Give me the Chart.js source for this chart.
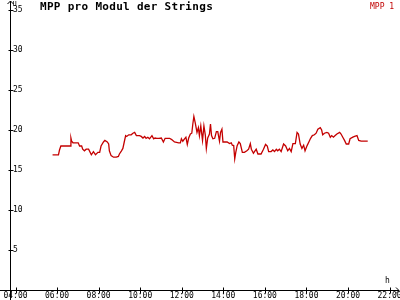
<!DOCTYPE html>
<html>
<head>
<meta charset="utf-8">
<script src="https://cdn.jsdelivr.net/npm/chart.js@4/dist/chart.umd.min.js"></script>
<style>
html, body { margin: 0; padding: 0; background: #fff; }
#wrap { position: relative; width: 400px; height: 300px; }
</style>
</head>
<body>
<div id="wrap"><canvas id="container"></canvas></div>
<script>
// Series data (time of day, value)
var times = ['05:47','06:04','06:07','06:11','06:38','06:40','06:42','06:46','07:01','07:05',
  '07:11','07:14','07:19','07:24','07:31','07:39','07:45','07:51','07:58','08:03',
  '08:07','08:14','08:18','08:25','08:29','08:31','08:36','08:43','08:51','08:57',
  '09:00','09:06','09:10','09:14','09:18','09:21','09:27','09:34','09:39','09:44',
  '09:49','09:53','09:58','10:03','10:08','10:13','10:17','10:22','10:27','10:34',
  '10:39','10:43','10:48','10:54','11:01','11:07','11:12','11:25','11:31','11:39',
  '11:51','11:56','11:59','12:03','12:08','12:12','12:16','12:20','12:25','12:29',
  '12:32','12:35','12:39','12:44','12:48','12:51','12:55','13:00','13:04','13:08',
  '13:11','13:15','13:20','13:23','13:26','13:30','13:35','13:40','13:44','13:49',
  '13:52','13:56','13:59','14:06','14:11','14:18','14:23','14:26','14:30','14:33',
  '14:36','14:40','14:45','14:49','14:55','15:01','15:08','15:13','15:18','15:21',
  '15:27','15:35','15:40','15:49','15:56','16:02','16:07','16:11','16:18','16:23',
  '16:28','16:33','16:37','16:42','16:47','16:54','17:00','17:06','17:11','17:16',
  '17:21','17:28','17:33','17:37','17:42','17:47','17:52','17:56','18:02','18:07',
  '18:12','18:17','18:23','18:28','18:33','18:40','18:44','18:47','18:52','18:59',
  '19:04','19:09','19:13','19:18','19:23','19:28','19:36','19:40','19:45','19:50',
  '19:55','20:02','20:06','20:14','20:19','20:26','20:31','20:38','20:57'];
var mpp1 = [16.9,16.9,17.5,18.0,18.0,19.0,18.6,18.4,18.4,18.0,
  18.0,17.6,17.4,17.6,17.6,16.9,17.3,16.9,17.2,17.2,
  18.0,18.5,18.7,18.5,18.25,17.4,16.8,16.6,16.6,16.7,
  17.0,17.4,17.7,18.5,19.3,19.2,19.4,19.4,19.6,19.7,
  19.3,19.3,19.3,19.2,19.0,19.2,18.96,19.1,18.9,19.3,
  18.9,19.0,18.96,18.96,19.0,18.5,18.96,18.96,18.8,18.5,
  18.4,18.4,18.9,18.6,18.9,19.1,18.2,19.0,19.5,19.6,
  20.75,21.7,20.9,19.7,20.3,19.3,20.5,18.7,20.5,19.4,
  17.7,19.0,19.5,20.75,19.3,18.9,18.96,19.8,19.8,18.6,
  19.7,20.1,18.5,18.5,18.5,18.3,18.4,18.1,18.05,16.4,
  17.2,18.05,18.5,18.3,17.2,17.2,17.4,17.6,18.3,17.6,
  17.1,17.6,17.0,17.0,17.6,18.2,18.0,17.3,17.3,17.5,
  17.3,17.6,17.4,17.6,17.3,18.25,18.0,17.4,17.7,17.3,
  18.3,18.3,19.7,19.5,18.25,17.7,18.1,17.4,18.05,18.5,
  18.96,19.3,19.4,19.6,20.1,20.3,20.0,19.4,19.6,19.7,
  19.6,19.1,19.3,19.1,19.3,19.5,19.7,19.5,19.1,18.7,
  18.25,18.25,18.9,19.1,19.2,19.3,18.7,18.6,18.6];

// Axis ticks
var yTicks = [5,10,15,20,25,30,35];
var xTicks = [4,6,8,10,12,14,16,18,20,22];
var xTickLabels = ['04:00','06:00','08:00','10:00','12:00','14:00','16:00','18:00','20:00','22:00'];

function toHours(s)
{
    var p = s.split(':');
    return Number(p[0]) + Number(p[1]) / 60;
}

var points = times.map(function(t, i) { return {x: toHours(t), y: mpp1[i]}; });

// Axes with arrows, crossing tick marks, title and legend
var axesPlugin = {
    id: 'axes',
    afterDraw: function(chart)
    {
        var ctx = chart.ctx;
        var area = chart.chartArea;
        var sx = chart.scales.x, sy = chart.scales.y;
        var x0 = Math.round(area.left) + 0.5;
        var y0 = Math.round(sy.getPixelForValue(0)) + 0.5;
        var r = Math.round(area.right);
        ctx.save();
        ctx.strokeStyle = '#000';
        ctx.lineWidth = 1;
        ctx.beginPath();
        ctx.moveTo(x0, 300); ctx.lineTo(x0, 1);
        ctx.moveTo(0, y0); ctx.lineTo(r, y0);
        ctx.moveTo(x0 - 3, 4); ctx.lineTo(x0, 1); ctx.lineTo(x0 + 3, 4);
        ctx.moveTo(r - 3, y0 - 3); ctx.lineTo(r, y0); ctx.lineTo(r - 3, y0 + 3);
        yTicks.forEach(function(v) {
            var py = Math.round(sy.getPixelForValue(v)) + 0.5;
            ctx.moveTo(x0 - 2, py); ctx.lineTo(x0 + 3, py);
        });
        xTicks.forEach(function(v) {
            var px = Math.round(sx.getPixelForValue(v)) + 0.5;
            ctx.moveTo(px, y0 - 3); ctx.lineTo(px, y0 + 3);
        });
        ctx.stroke();

        ctx.fillStyle = '#000';
        ctx.textBaseline = 'top';
        ctx.textAlign = 'left';
        ctx.font = 'bold 11px "DejaVu Sans Mono"';
        ctx.letterSpacing = '0.3px';
        ctx.fillText('MPP pro Modul der Strings', 40, 2);
        ctx.letterSpacing = '0px';
        ctx.font = '7px "DejaVu Sans Mono"';
        ctx.fillText('U', x0 + 2, 1);
        ctx.font = '8px "DejaVu Sans Mono"';
        ctx.fillText('h', 385, 277);
        ctx.fillStyle = '#c00000';
        ctx.fillText('MPP 1', 370, 3);
        ctx.restore();
    }
};

var container = document.getElementById('container').getContext('2d');
var mychart = new Chart(container, {
    type: 'line',
    data: {
        datasets: [{
            label: 'MPP 1',
            data: points,
            borderColor: '#c40000',
            borderWidth: 1.3,
            pointRadius: 0,
            tension: 0,
            fill: false,
        }],
    },
    options: {
        animation: false,
        responsive: true,
        maintainAspectRatio: false,
        layout: { padding: { left: 10, right: 1, top: 2, bottom: 0 } },
        plugins: { legend: { display: false }, title: { display: false }, tooltip: { enabled: false } },
        scales: {
            x: {
                type: 'linear',
                min: 3.735,
                max: 22.455,
                grid: { display: false, drawTicks: false },
                border: { display: false },
                ticks: {
                    color: '#000',
                    font: { family: 'DejaVu Sans Mono', size: 8 },
                    padding: 1,
                    maxRotation: 0,
                    autoSkip: false,
                    callback: function(v) { return xTickLabels[xTicks.indexOf(v)]; },
                },
                afterBuildTicks: function(s) { s.ticks = xTicks.map(function(v) { return {value: v}; }); },
                afterFit: function(s) { s.height = 10; s.paddingLeft = 0; s.paddingRight = 0; },
            },
            y: {
                type: 'linear',
                position: 'left',
                min: 0,
                max: 36,
                grid: { display: false, drawTicks: false },
                border: { display: false },
                ticks: {
                    color: '#000',
                    mirror: true,
                    padding: 3,
                    font: { family: 'DejaVu Sans Mono', size: 8 },
                },
                afterBuildTicks: function(s) { s.ticks = yTicks.map(function(v) { return {value: v}; }); },
                afterFit: function(s) { s.width = 0; s.paddingTop = 0; s.paddingBottom = 0; },
            },
        },
    },
    plugins: [axesPlugin],
});
</script>
</body>
</html>
